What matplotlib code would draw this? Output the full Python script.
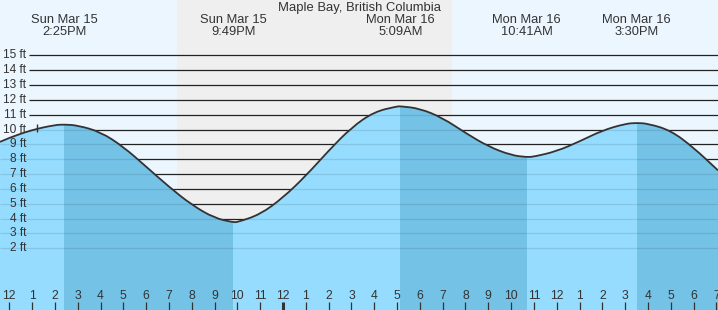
# -*- coding: utf-8 -*-
import numpy as np
import matplotlib
matplotlib.use("Agg")
import matplotlib.pyplot as plt
from matplotlib.path import Path
from matplotlib.patches import PathPatch

plt.rcParams["font.family"] = ["Liberation Sans", "DejaVu Sans"]

# hours counted from Sun Mar 15, 12:00 PM
title = "Maple Bay, British Columbia"

tide_hours = [-0.41, 0, 1, 2, 2.417, 3, 4, 5, 6, 7, 8, 9, 9.817, 10, 11, 12, 13, 14, 15,
              16, 17, 17.15, 18, 19, 20, 21, 22, 22.683, 23, 24, 25, 26, 27, 27.5, 28,
              29, 30, 31, 31.07]
tide_ft = [9.17, 9.45, 9.98, 10.31, 10.34, 10.28, 9.84, 8.84, 7.50, 6.14, 4.92, 4.03, 3.75,
           3.76, 4.28, 5.41, 6.88, 8.58, 10.14, 11.2, 11.56, 11.57, 11.42, 10.78, 9.77, 8.86,
           8.27, 8.14, 8.17, 8.54, 9.2, 9.94, 10.39, 10.45, 10.40, 9.94, 8.78, 7.35, 7.25]

extreme_hours = [2.417, 9.817, 17.15, 22.683, 27.5]
extreme_days = ["Sun Mar 15", "Sun Mar 15", "Mon Mar 16", "Mon Mar 16", "Mon Mar 16"]
extreme_times = ["2:25PM", "9:49PM", "5:09AM", "10:41AM", "3:30PM"]

# falling tide spans (high -> low), drawn darker
falling = [(2.417, 9.817), (17.15, 22.683), (27.5, 31.07)]

sunset, sunrise = 7.37, 19.41
now_hour, now_ft = 1.23, 10.08

ft_levels = [2, 3, 4, 5, 6, 7, 8, 9, 10, 11, 12, 13, 14, 15]
hour_ticks = list(range(0, 32))
hour_labels = ["12", "1", "2", "3", "4", "5", "6", "7", "8", "9", "10", "11",
               "12", "1", "2", "3", "4", "5", "6", "7", "8", "9", "10", "11",
               "12", "1", "2", "3", "4", "5", "6", "7"]

x0, x1 = -0.408, 31.07
y0, y1 = -2.16, 18.73
W, H = 718, 310

fig = plt.figure(figsize=(W / 100, H / 100), dpi=100)
ax = fig.add_axes([0, 0, 1, 1])
ax.set_xlim(x0, x1)
ax.set_ylim(y0, y1)
ax.axis("off")

day_c, night_c = "#ecf6fe", "#efefef"
light_c, dark_c = "#95dcfe", "#74c2e6"
txt_c = "#333333"

ax.axvspan(x0, sunset, color=day_c, lw=0, zorder=0)
ax.axvspan(sunset, sunrise, color=night_c, lw=0, zorder=0)
ax.axvspan(sunrise, x1, color=day_c, lw=0, zorder=0)

# grid lines in the air
ax.hlines(ft_levels, 0.864, x1, color="#222222", lw=0.9, zorder=1)

# smoothed tide line (quadratic pieces through segment midpoints)
pts = list(zip(tide_hours, tide_ft))
verts = [pts[0]]
codes = [Path.MOVETO]
for i in range(1, len(pts) - 1):
    mid = ((pts[i][0] + pts[i + 1][0]) / 2, (pts[i][1] + pts[i + 1][1]) / 2)
    verts += [pts[i], mid]
    codes += [Path.CURVE3, Path.CURVE3]
verts.append(pts[-1])
codes.append(Path.LINETO)

line_path = Path(verts, codes)
fill_path = Path(verts + [(pts[-1][0], y0 - 1), (pts[0][0], y0 - 1), (0, 0)],
                 codes + [Path.LINETO, Path.LINETO, Path.CLOSEPOLY])

water = PathPatch(fill_path, facecolor=light_c, edgecolor="none", zorder=2)
ax.add_patch(water)
for a, b in falling:
    band = ax.axvspan(a, b, color=dark_c, lw=0, zorder=2.1)
    band.set_clip_path(water)

# faint grid lines under water
under = ax.hlines(ft_levels, x0, x1, color="black", alpha=0.1, lw=0.9, zorder=3)
under.set_clip_path(water)

ax.add_patch(PathPatch(line_path, facecolor="none", edgecolor="#333333", lw=1.3, zorder=4))
ax.plot([now_hour], [now_ft], marker="|", ms=6, mew=1.0, color="#333333", zorder=5)

for lv in ft_levels:
    ax.text(0.74, lv, f"{lv} ft", ha="right", va="center", fontsize=8.6, color=txt_c, zorder=6)

# header
def ypx(px):
    return 1 - px / H

fig.text(0.5, ypx(7.5), title, ha="center", va="center", fontsize=9.4, color=txt_c)
for eh, d, tm in zip(extreme_hours, extreme_days, extreme_times):
    xf = (eh - x0) / (x1 - x0)
    fig.text(xf, ypx(20), d, ha="center", va="center", fontsize=9.3, color=txt_c)
    fig.text(xf, ypx(32), tm, ha="center", va="center", fontsize=9.3, color=txt_c)

# hour ticks along the bottom
for hr, lab in zip(hour_ticks, hour_labels):
    ax.text(hr, -1.19, lab, ha="center", va="center", fontsize=8.7, color=txt_c, zorder=6)
    lw = 2.2 if hr == 12 else 0.9
    ax.vlines(hr, -1.60, y0, color="#333333", lw=lw, zorder=6)

fig.savefig("out.png", dpi=100)
